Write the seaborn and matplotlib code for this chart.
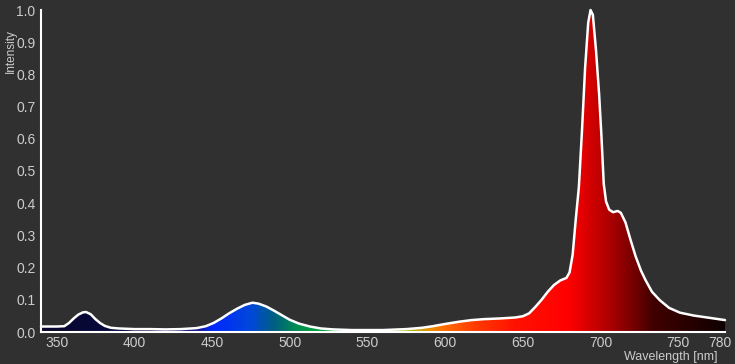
import numpy as np
import pandas as pd
import matplotlib
matplotlib.use("Agg")
import matplotlib.pyplot as plt
from matplotlib.colors import LinearSegmentedColormap
from matplotlib.transforms import ScaledTranslation
import seaborn as sns

# ---- data ----
wavelength = [340, 345, 350, 355, 358, 361, 364, 367, 369, 372, 375, 378, 381, 385, 390,
              400, 410, 420, 430, 440, 446, 451, 456, 461, 466, 471, 476, 480, 485, 490,
              495, 500, 506, 513, 520, 528, 540, 550, 560, 575, 585, 592, 600, 609, 617,
              625, 635, 645, 650, 654, 658, 662, 666, 670, 674, 678, 680, 682, 684, 686,
              688, 690, 692, 693.5, 695, 697, 699, 700.5, 702, 703.5, 705.5, 708, 711, 713,
              716, 719, 722.5, 726, 729, 733, 738, 744, 751, 760, 770, 780]
intensity = [0.017, 0.017, 0.017, 0.018, 0.028, 0.042, 0.054, 0.061, 0.062, 0.055, 0.040,
             0.028, 0.019, 0.013, 0.011, 0.009, 0.009, 0.008, 0.009, 0.012, 0.018, 0.028,
             0.042, 0.058, 0.072, 0.084, 0.091, 0.088, 0.079, 0.066, 0.052, 0.038, 0.026,
             0.017, 0.011, 0.008, 0.006, 0.006, 0.006, 0.009, 0.013, 0.018, 0.025, 0.032,
             0.037, 0.040, 0.042, 0.045, 0.049, 0.058, 0.078, 0.100, 0.125, 0.146, 0.160,
             0.168, 0.185, 0.240, 0.350, 0.450, 0.625, 0.820, 0.960, 1.000, 0.985, 0.876,
             0.740, 0.610, 0.460, 0.405, 0.380, 0.372, 0.376, 0.370, 0.340, 0.290, 0.235,
             0.190, 0.160, 0.125, 0.099, 0.075, 0.060, 0.051, 0.044, 0.037]
x_ticks = [350, 400, 450, 500, 550, 600, 650, 700, 750, 780]
y_ticks = [0.0, 0.1, 0.2, 0.3, 0.4, 0.5, 0.6, 0.7, 0.8, 0.9, 1.0]

# spectral colour stops (wavelength, colour)
color_stops = [(340, "#07072a"), (400, "#0a0a45"), (440, "#15158a"), (450, "#0028ff"),
               (475, "#0048d8"), (490, "#006080"), (505, "#009050"), (530, "#00b030"),
               (555, "#30c010"), (575, "#a0b800"), (590, "#e89000"), (600, "#ff6a00"),
               (620, "#ff3a00"), (645, "#ff1200"), (680, "#ff0000"), (695, "#d00000"),
               (715, "#900000"), (735, "#400000"), (780, "#100000")]

df = pd.DataFrame({"wavelength": wavelength, "intensity": intensity})

sns.set_style("dark", {"axes.facecolor": "#303030", "figure.facecolor": "#303030"})
plt.rcParams["font.family"] = ["Liberation Sans", "DejaVu Sans"]

fig = plt.figure(figsize=(7.35, 3.64), dpi=100, facecolor="#303030")
ax = fig.add_axes([41 / 735, 1 - 332 / 364, (725 - 41) / 735, (332 - 10) / 364])
ax.set_facecolor("#303030")

xmin, xmax = 340, 780
lo, hi = color_stops[0][0], color_stops[-1][0]
cmap = LinearSegmentedColormap.from_list(
    "spec", [((w - lo) / (hi - lo), c) for w, c in color_stops])

fill = ax.fill_between(df["wavelength"], df["intensity"], 0, facecolor="none",
                       edgecolor="none")
grad = np.linspace(0, 1, 1000).reshape(1, -1)
im = ax.imshow(grad, cmap=cmap, aspect="auto", extent=[lo, hi, 0, 1.05],
               origin="lower", zorder=1)
im.set_clip_path(fill.get_paths()[0], transform=ax.transData)

sns.lineplot(data=df, x="wavelength", y="intensity", color="white", lw=1.8,
             ax=ax, zorder=3, clip_on=False)

ax.set_xlim(xmin, xmax)
ax.set_ylim(0, 1.0)
ax.set_xticks(x_ticks)
ax.set_yticks(y_ticks)
ax.set_yticklabels([f"{v:.1f}" for v in y_ticks])
ax.tick_params(axis="both", direction="in", length=4, width=1.2, color="white",
               labelcolor="#cccccc", labelsize=10, pad=4)
ax.tick_params(axis="x", pad=3)
for side in ["top", "right"]:
    ax.spines[side].set_visible(False)
for side in ["left", "bottom"]:
    ax.spines[side].set_visible(True)
    ax.spines[side].set_color("white")
    ax.spines[side].set_linewidth(1.5)
ax.grid(False)
ax.set_xlabel("")
ax.set_ylabel("")

# nudge the last x tick label ("780") so it stays inside the figure
last = ax.get_xticklabels()[-1]
last.set_transform(last.get_transform() +
                   ScaledTranslation(-5 / 100, 0, fig.dpi_scale_trans))

fig.text(5 / 735, 1 - 29 / 364, "Intensity", rotation=90, color="#cccccc",
         fontsize=8.5, ha="left", va="top")
fig.text(718 / 735, 1 - 357 / 364, "Wavelength [nm]", color="#cccccc",
         fontsize=9, ha="right", va="center")

fig.savefig("out.png", dpi=100, facecolor="#303030")
